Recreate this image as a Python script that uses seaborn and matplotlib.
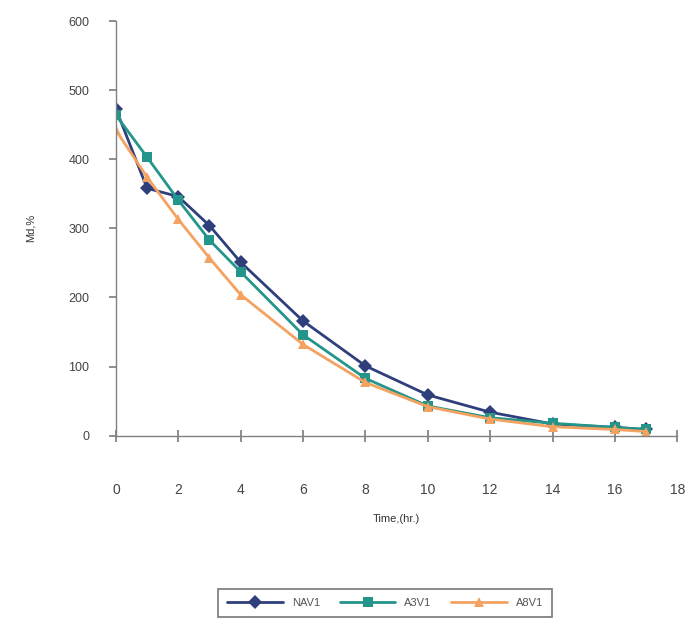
import matplotlib
matplotlib.use("Agg")
import matplotlib.pyplot as plt
import seaborn as sns
import pandas as pd

time_hr = [0, 1, 2, 3, 4, 6, 8, 10, 12, 14, 16, 17]
nav1 = [473, 358, 346, 304, 251, 166, 101, 59, 34, 17, 12, 9]
a3v1 = [464, 403, 341, 283, 237, 146, 83, 43, 26, 18, 12, 9]
a8v1 = [442, 374, 313, 257, 204, 132, 77, 42, 24, 13, 9, 6]
series_names = ["NAV1", "A3V1", "A8V1"]
x_ticks = [0, 2, 4, 6, 8, 10, 12, 14, 16, 18]
y_ticks = [0, 100, 200, 300, 400, 500, 600]

df = pd.concat([
    pd.DataFrame({"t": time_hr, "v": vals, "s": name})
    for name, vals in zip(series_names, [nav1, a3v1, a8v1])
])

sns.set_theme(style="white")
plt.rcParams["font.family"] = ["Liberation Sans", "DejaVu Sans"]

fig = plt.figure(figsize=(6.94, 6.37), dpi=100)
ax = fig.add_axes([0.167, 0.316, 0.809, 0.651])

palette = {"NAV1": "#2E3F7C", "A3V1": "#23958A", "A8V1": "#F4A261"}
markers = {"NAV1": "D", "A3V1": "s", "A8V1": "^"}
sns.lineplot(data=df, x="t", y="v", hue="s", style="s", palette=palette,
             markers=markers, dashes=False, markersize=7.5, linewidth=2,
             markeredgewidth=0, ax=ax, legend=True)

ax.set_xlim(0, 18)
ax.set_ylim(0, 600)
ax.set_xticks(x_ticks)
ax.set_yticks(y_ticks)
ax.set_xticklabels([str(t) for t in x_ticks])
for s in ["top", "right"]:
    ax.spines[s].set_visible(False)
for s in ["left", "bottom"]:
    ax.spines[s].set_color("#808080")
    ax.spines[s].set_linewidth(1)
ax.tick_params(axis="x", direction="inout", length=8, color="#808080",
               pad=30, labelsize=10, labelcolor="#444444")
ax.tick_params(axis="y", direction="out", length=5, color="#808080",
               pad=14, labelsize=9, labelcolor="#444444")
ax.tick_params(bottom=True, left=True)

ax.set_xlabel("Time,(hr.)", fontsize=8, color="#333333", labelpad=12)
ax.set_ylabel("Md,%", fontsize=8, color="#333333", labelpad=24)

handles, labels = ax.get_legend_handles_labels()
ax.legend_.remove()
leg = fig.legend(handles, labels, loc="center", bbox_to_anchor=(0.555, 0.053),
                 ncol=3, frameon=True, fancybox=False, fontsize=8,
                 edgecolor="#555555", handlelength=5, columnspacing=1.8,
                 handletextpad=0.8, borderpad=0.8)
for t in leg.get_texts():
    t.set_color("#555555")
leg.get_frame().set_linewidth(1.2)

fig.savefig("out.png", dpi=100)
